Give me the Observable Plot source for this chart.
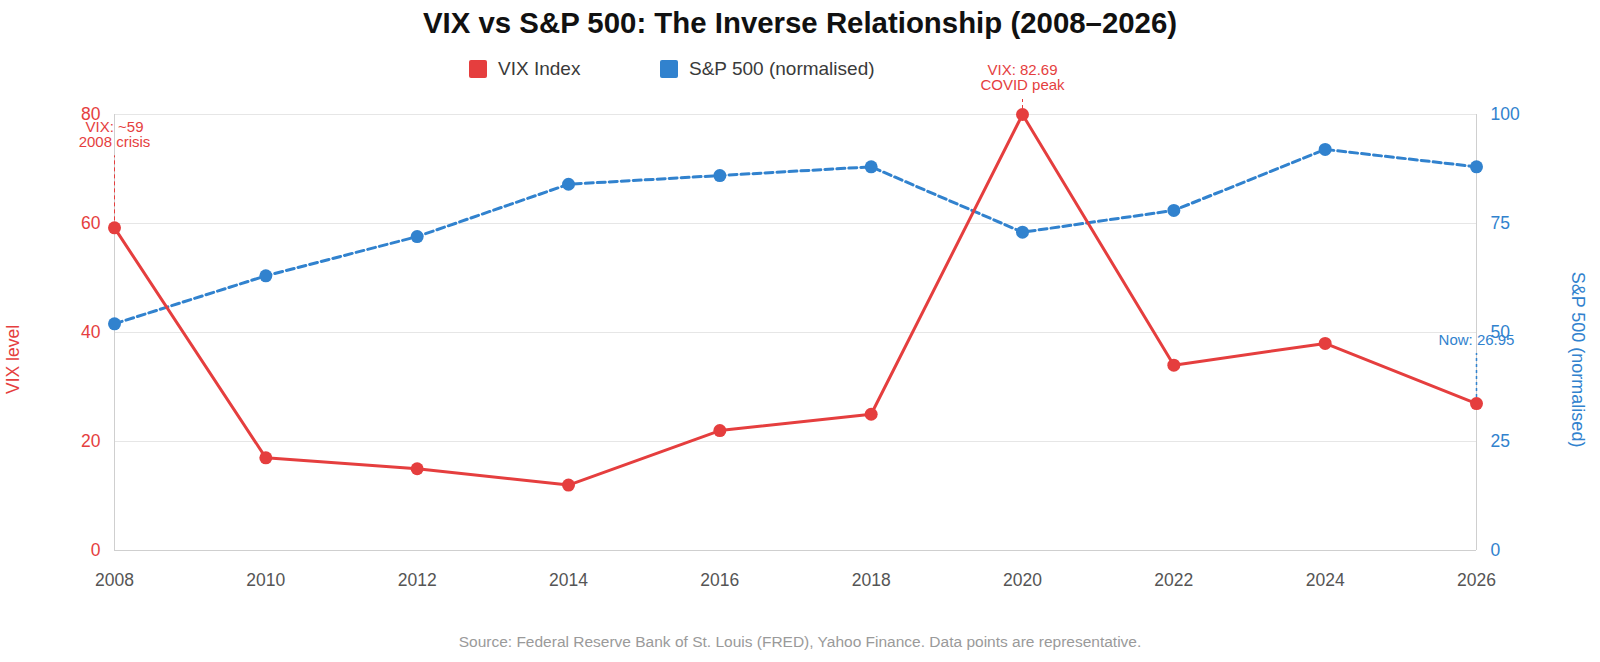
<!DOCTYPE html>
<html>
<head>
<meta charset="utf-8">
<script src="https://cdn.jsdelivr.net/npm/d3@7"></script>
<script src="https://cdn.jsdelivr.net/npm/@observablehq/plot@0.6"></script>
<style>
  body { margin: 0; background: #fff; font-family: "Liberation Sans", Helvetica, Arial, sans-serif; }
  #wrap { position: relative; width: 1600px; height: 662px; overflow: hidden; background: #fff; }
  #title { position: absolute; left: 0; top: 0; width: 1600px; height: 45px; line-height: 45px; text-align: center; font-weight: bold; font-size: 29.4px; color: #111; }
  .item { position: absolute; top: 60px; height: 18px; display: flex; align-items: center; font-size: 19px; color: #3a3a3a; white-space: nowrap; }
  .sw { width: 18px; height: 18px; border-radius: 2px; margin-right: 11px; flex: none; }
  #chart { position: absolute; left: 0; top: 48px; }
  #caption { position: absolute; left: 0; top: 633px; width: 1600px; line-height: 18px; text-align: center; font-size: 15.5px; color: #9a9a9a; }
</style>
</head>
<body>
<div id="wrap">
  <div id="title"></div>
  <div id="legend"></div>
  <div id="chart"></div>
  <div id="caption"></div>
</div>
<script>
// ---- data ----
const years = [2008, 2010, 2012, 2014, 2016, 2018, 2020, 2022, 2024, 2026];
const vixValues = [59.2, 17, 15, 12, 22, 25, 80, 34, 38, 26.95];
const spValues = [52, 63, 72, 84, 86, 88, 73, 78, 92, 88];
const vixTicks = [0, 20, 40, 60, 80];
const spTicks = [0, 25, 50, 75, 100];
const seriesNames = ["VIX Index", "S&P 500 (normalised)"];
const annotationYears = [2008, 2020, 2026];
const annotationTexts = ["VIX: ~59\n2008 crisis", "VIX: 82.69\nCOVID peak", "Now: 26.95"];
const titleText = "VIX vs S&P 500: The Inverse Relationship (2008–2026)";
const leftLabel = "VIX level";
const rightLabel = "S&P 500 (normalised)";
const captionText = "Source: Federal Reserve Bank of St. Louis (FRED), Yahoo Finance. Data points are representative.";

// ---- styles ----
const RED = "#e53e3e";
const BLUE = "#3182ce";
const spFactor = vixTicks[vixTicks.length - 1] / spTicks[spTicks.length - 1];

const rows = years.map((year, i) => ({year, vix: vixValues[i], sp: spValues[i]}));
const ann = annotationYears.map((year, i) => ({year, text: annotationTexts[i], vix: vixValues[years.indexOf(year)]}));

document.getElementById("title").textContent = titleText;
document.getElementById("caption").textContent = captionText;
const legend = document.getElementById("legend");
[[seriesNames[0], RED, 469], [seriesNames[1], BLUE, 660]].forEach(([name, c, left]) => {
  const it = document.createElement("div");
  it.className = "item";
  it.style.left = left + "px";
  const sw = document.createElement("div");
  sw.className = "sw";
  sw.style.background = c;
  it.appendChild(sw);
  const t = document.createElement("span");
  t.textContent = name;
  it.appendChild(t);
  legend.appendChild(it);
});

const annStyle = [
  {color: RED, dy: -93, len: 72, dash: "4,3", w: 1},
  {color: RED, dy: -37, len: 16, dash: "3,3", w: 1},
  {color: BLUE, dy: -64, len: 50, dash: "3,3", w: 1.5}
];

const annMarks = ann.map((a, i) => {
  const s = annStyle[i];
  return Plot.ruleX([a], {x: "year", y1: "vix", y2: "vix", insetBottom: s.len, stroke: s.color, strokeWidth: s.w, strokeDasharray: s.dash});
});
const annTextMarks = ann.map((a, i) => {
  const s = annStyle[i];
  return Plot.text([a], {x: "year", y: "vix", text: "text", dy: s.dy, fill: s.color, fontSize: 15, lineHeight: 1.02, textAnchor: "middle"});
});

const chart = Plot.plot({
  width: 1600,
  height: 562,
  marginTop: 66,
  marginBottom: 60,
  marginLeft: 114,
  marginRight: 124,
  style: {fontFamily: "'Liberation Sans', Helvetica, Arial, sans-serif", overflow: "visible", background: "transparent"},
  x: {type: "linear", domain: [years[0], years[years.length - 1]]},
  y: {domain: [vixTicks[0], vixTicks[vixTicks.length - 1]]},
  marks: [
    Plot.gridY(vixTicks, {stroke: "#e6e6e6", strokeOpacity: 1}),
    Plot.ruleY([vixTicks[0]], {stroke: "#cfcfcf"}),
    Plot.ruleX([years[0], years[years.length - 1]], {stroke: "#cfcfcf"}),
    Plot.axisY({ticks: vixTicks, anchor: "left", tickSize: 0, tickPadding: 14, fontSize: 17.5, color: RED, label: null}),
    Plot.axisY(spTicks.map(t => t * spFactor), {anchor: "right", tickSize: 0, tickPadding: 14, fontSize: 17.5, color: BLUE, label: null, tickFormat: t => String(Math.round(t / spFactor))}),
    Plot.axisX({ticks: years, anchor: "bottom", tickSize: 0, tickPadding: 23, fontSize: 17.5, color: "#555", label: null, tickFormat: d => String(d)}),
    Plot.text([leftLabel], {text: d => d, frameAnchor: "left", textAnchor: "middle", dx: -101, dy: 27, rotate: -90, fill: RED, fontSize: 17.5}),
    Plot.text([rightLabel], {text: d => d, frameAnchor: "right", textAnchor: "middle", dx: 101, dy: 27, rotate: 90, fill: BLUE, fontSize: 18}),
    ...annMarks,
    Plot.line(rows, {x: "year", y: d => d.sp * spFactor, stroke: BLUE, strokeWidth: 3, strokeDasharray: "8,4"}),
    Plot.dot(rows, {x: "year", y: d => d.sp * spFactor, r: 6.5, fill: BLUE}),
    Plot.line(rows, {x: "year", y: "vix", stroke: RED, strokeWidth: 3}),
    Plot.dot(rows, {x: "year", y: "vix", r: 6.5, fill: RED}),
    ...annTextMarks
  ]
});
document.getElementById("chart").appendChild(chart);
</script>
</body>
</html>
